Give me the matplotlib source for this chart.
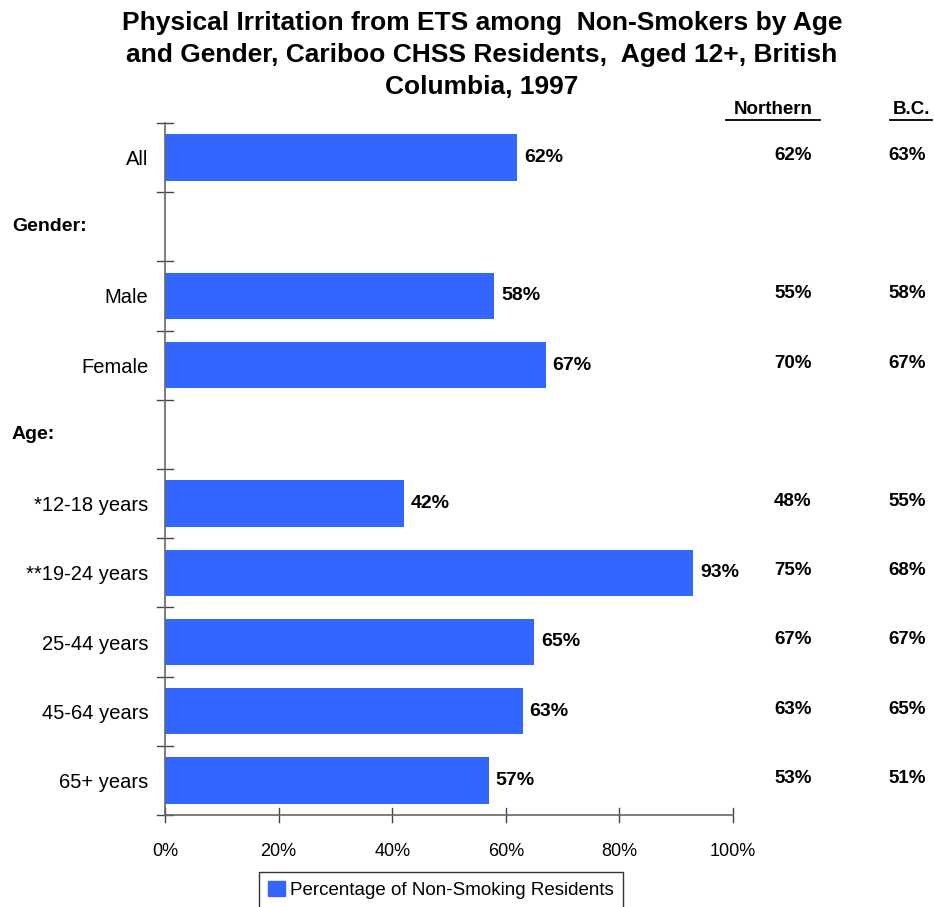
import matplotlib.pyplot as plt
from matplotlib.lines import Line2D
from matplotlib.patches import Patch
import numpy as np

# rows from top to bottom; None marks a section gap row
categories = ["All", None, "Male", "Female", None,
              "*12-18 years", "**19-24 years", "25-44 years", "45-64 years", "65+ years"]
section_labels = {1: "Gender:", 4: "Age:"}
cariboo = [62, None, 58, 67, None, 42, 93, 65, 63, 57]
northern = ["62%", None, "55%", "70%", None, "48%", "75%", "67%", "63%", "53%"]
bc = ["63%", None, "58%", "67%", None, "55%", "68%", "67%", "65%", "51%"]
xticks = [0, 20, 40, 60, 80, 100]

BLUE = "#3366FF"
FONT = ["Liberation Sans", "DejaVu Sans"]
plt.rcParams["font.family"] = FONT

fig = plt.figure(figsize=(9.34, 9.07), dpi=100)
ax = fig.add_axes([165 / 934, 1 - 815 / 907, (733 - 165) / 934, (815 - 123) / 907])

n = len(categories)
ypos = np.arange(n)
for i, v in enumerate(cariboo):
    if v is None:
        continue
    ax.barh(i, v, height=0.67, color=BLUE)
    ax.text(v + 1.2, i, f"{v}%", va="center", ha="left", fontsize=14, fontweight="bold")

ax.set_xlim(0, 100)
ax.set_ylim(n - 0.5, -0.5)
ax.set_xticks(xticks)
ax.set_xticklabels([f"{t}%" for t in xticks], fontsize=13)
ax.set_yticks(ypos)
ax.set_yticklabels([c if c else "" for c in categories], fontsize=14.5)
ax.tick_params(axis="y", length=0, pad=12)
ax.tick_params(axis="x", length=0, pad=20)

# boundary tick marks crossing the axes
for b in np.arange(-0.5, n, 1.0):
    ax.plot([-1.4, 1.4], [b, b], color="#444444", lw=1, clip_on=False)
for t in xticks:
    ax.plot([t, t], [n - 0.5 - 0.1, n - 0.5 + 0.1], color="#444444", lw=1, clip_on=False)

for s in ["top", "right"]:
    ax.spines[s].set_visible(False)
for s in ["left", "bottom"]:
    ax.spines[s].set_color("#666666")
    ax.spines[s].set_linewidth(1.2)

for i, lab in section_labels.items():
    fig.text(12 / 934, 1 - (123 + 69.2 * (i + 0.5)) / 907, lab, ha="left", va="center",
             fontsize=14, fontweight="bold")

# comparison columns
for i in range(n):
    if northern[i] is None:
        continue
    y = 1 - (123 + 69.2 * (i + 0.5) - 2) / 907
    fig.text(793 / 934, y, northern[i], ha="center", va="center", fontsize=13.5, fontweight="bold")
    fig.text(907 / 934, y, bc[i], ha="center", va="center", fontsize=13.5, fontweight="bold")

for label, xc, w in [("Northern", 773, 94), ("B.C.", 911, 42)]:
    fig.text(xc / 934, 1 - 110 / 907, label, ha="center", va="center", fontsize=13.5,
             fontweight="bold")
    yl = 1 - 120 / 907
    fig.add_artist(Line2D([(xc - w / 2) / 934, (xc + w / 2) / 934], [yl, yl], color="black", lw=1.3))

fig.text(482 / 934, 1 - 55 / 907,
         "Physical Irritation from ETS among  Non-Smokers by Age\n"
         "and Gender, Cariboo CHSS Residents,  Aged 12+, British\nColumbia, 1997",
         ha="center", va="center", fontsize=19, fontweight="bold", linespacing=1.4)

leg = fig.legend(handles=[Patch(color=BLUE, label="Percentage of Non-Smoking Residents")],
                 loc="center", bbox_to_anchor=(441 / 934, 1 - 890 / 907),
                 frameon=True, fancybox=False, edgecolor="black", handlelength=0.9,
                 handleheight=0.9, handletextpad=0.3, borderpad=0.45,
                 prop={"size": 13.5})
leg.get_frame().set_linewidth(1.0)

fig.savefig("out.png", dpi=100)
